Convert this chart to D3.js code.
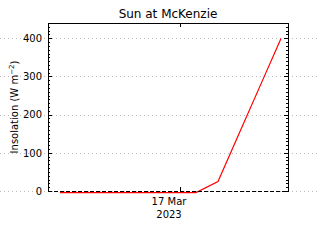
<!DOCTYPE html>
<html><head><meta charset="utf-8">
<script src="https://cdn.jsdelivr.net/npm/d3@7"></script>
<style>body{margin:0;background:#fff}svg{display:block}text{font-family:"DejaVu Sans",sans-serif;fill:#000}</style>
</head><body><svg id="c" width="320" height="240"></svg>
<script>
const times = ["2023-03-16T14:00Z","2023-03-17T01:20Z","2023-03-17T03:10Z","2023-03-17T04:55Z","2023-03-17T06:40Z","2023-03-17T08:25Z"];
const values = [-3,-3,26,151,276,401];
const yTicks = [0,100,200,300,400];
const xTickLabels = ["17 Mar","2023"];
const xTickDate = "2023-03-17T00:00Z";
const title = "Sun at McKenzie";

const svg = d3.select("#c");
const L=48,R=288,T=23,B=191;
const x = d3.scaleUtc().domain([new Date("2023-03-16T13:00Z"), new Date("2023-03-17T09:00Z")]).range([L,R]);
const y = d3.scaleLinear().domain([0,440]).range([B,T]);

// grid lines across full width
svg.append("g").selectAll("line").data(yTicks).join("line")
  .attr("x1",0).attr("x2",320).attr("y1",d=>Math.round(y(d))+0.5).attr("y2",d=>Math.round(y(d))+0.5)
  .attr("stroke","#bbb").attr("stroke-dasharray","1,3").attr("shape-rendering","crispEdges");
// white plot area over grid? grid shows inside too, keep.

// data line
const pts = times.map((t,i)=>[new Date(t), values[i]]);
svg.append("path").datum(pts)
  .attr("d", d3.line().x(d=>x(d[0])).y(d=>y(d[1])+0.5))
  .attr("fill","none").attr("stroke","#f00").attr("stroke-width",1.2);

// axes
const minor = d3.range(0,441,10);
const yl = d3.axisLeft(y).tickValues(minor).tickSize(-2).tickFormat("");
const ylMaj = d3.axisLeft(y).tickValues(yTicks).tickSize(-4).tickPadding(6);
const yr = d3.axisRight(y).tickValues(minor).tickSize(-2).tickFormat("");
const yrMaj = d3.axisRight(y).tickValues(yTicks).tickSize(-4).tickFormat("");
function style(g){g.select(".domain").remove();g.selectAll("line").attr("stroke","#000").attr("shape-rendering","crispEdges");g.selectAll("text").attr("font-size",10).attr("font-family","DejaVu Sans");}
svg.append("g").attr("transform",`translate(${L},0)`).call(yl).call(style);
svg.append("g").attr("transform",`translate(${L},0)`).call(ylMaj).call(style);
svg.append("g").attr("transform",`translate(${R},0)`).call(yr).call(style);
svg.append("g").attr("transform",`translate(${R},0)`).call(yrMaj).call(style);
svg.append("g").attr("transform",`translate(0,${B})`).call(d3.axisBottom(x).tickValues([new Date(xTickDate)]).tickSize(-4).tickFormat("")).call(style);
svg.append("g").attr("transform",`translate(0,${T})`).call(d3.axisTop(x).tickValues([new Date(xTickDate)]).tickSize(-4).tickFormat("")).call(style);

// box
svg.append("path").attr("d",`M${L+0.5},${B+0.5}V${T+0.5}H${R+0.5}V${B+0.5}`).attr("fill","none").attr("stroke","#000").attr("shape-rendering","crispEdges");
svg.append("line").attr("x1",L).attr("x2",R+1).attr("y1",B+0.5).attr("y2",B+0.5).attr("stroke","#000").attr("stroke-dasharray","4,2").attr("shape-rendering","crispEdges");

// x labels
const xc = x(new Date(xTickDate))-11;
svg.append("text").attr("x",xc).attr("y",205).attr("text-anchor","middle").attr("font-size",10).text(xTickLabels[0]);
svg.append("text").attr("x",xc).attr("y",218).attr("text-anchor","middle").attr("font-size",10).text(xTickLabels[1]);

// title
svg.append("text").attr("x",168).attr("y",18).attr("text-anchor","middle").attr("font-size",12).text(title);

// y label
const yt = svg.append("text").attr("transform",`translate(18,${(T+B)/2}) rotate(-90)`).attr("text-anchor","middle").attr("font-size",10);
yt.append("tspan").text("Insolation (W m");
yt.append("tspan").attr("dy",-4).attr("font-size",7).text("−2");
yt.append("tspan").attr("dy",4).text(")");
</script></body></html>
